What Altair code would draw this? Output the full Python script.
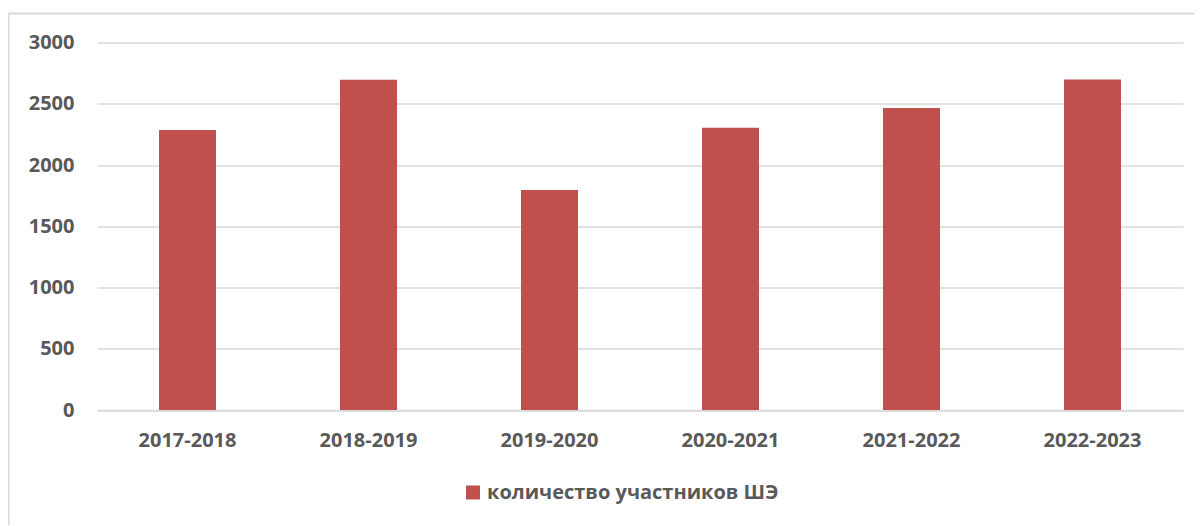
import altair as alt
import pandas as pd

years = ["2017-2018", "2018-2019", "2019-2020", "2020-2021", "2021-2022", "2022-2023"]
participants = [2285, 2695, 1795, 2305, 2465, 2697]
series_name = "количество участников ШЭ"

df = pd.DataFrame({"year": years, "value": participants, "series": [series_name] * len(years)})

FONT = "Open Sans"
GRAY = "#595959"
GRID = "#d9d9d9"

W, H = 1086, 367.5

bars = alt.Chart(df).mark_bar(size=57, color="#C0504D").encode(
    x=alt.X("year:N", sort=years, title=None,
            scale=alt.Scale(paddingInner=0, paddingOuter=0),
            axis=alt.Axis(labelAngle=0, ticks=False, domain=True, domainColor=GRID,
                          domainWidth=1.5, grid=False, labelFont=FONT, labelFontSize=20,
                          labelFontWeight="bold", labelColor=GRAY, labelPadding=20)),
    y=alt.Y("value:Q", title=None,
            scale=alt.Scale(domain=[0, 3000], nice=False),
            axis=alt.Axis(values=[0, 500, 1000, 1500, 2000, 2500, 3000], format="d",
                          ticks=False, domain=False, grid=True, gridColor=GRID,
                          gridWidth=1.5, labelFont=FONT, labelFontSize=20,
                          labelFontWeight="bold", labelColor=GRAY, labelPadding=23)),
    color=alt.Color("series:N", scale=alt.Scale(range=["#C0504D"]), title=None,
                    legend=alt.Legend(orient="none", legendX=366, legendY=440,
                                      symbolType="square", symbolSize=196,
                                      symbolStrokeWidth=0, labelFont=FONT,
                                      labelFontSize=20, labelFontWeight="bold",
                                      labelColor=GRAY, labelLimit=600)),
)

border = alt.Chart(pd.DataFrame({"a": [0]})).mark_rect(
    fill=None, stroke=GRID, strokeWidth=2
).encode(
    x=alt.value(-88.5), x2=alt.value(1120), y=alt.value(-29), y2=alt.value(500)
)

chart = alt.layer(border, bars).properties(
    width=W, height=H,
    background="white",
    autosize=alt.AutoSizeParams(type="none"),
    padding={"left": 89, "top": 34.5, "right": 11, "bottom": 115},
).configure_view(stroke=None, strokeWidth=0)

chart.save("out.html", embed_options={"renderer": "svg", "actions": False})
